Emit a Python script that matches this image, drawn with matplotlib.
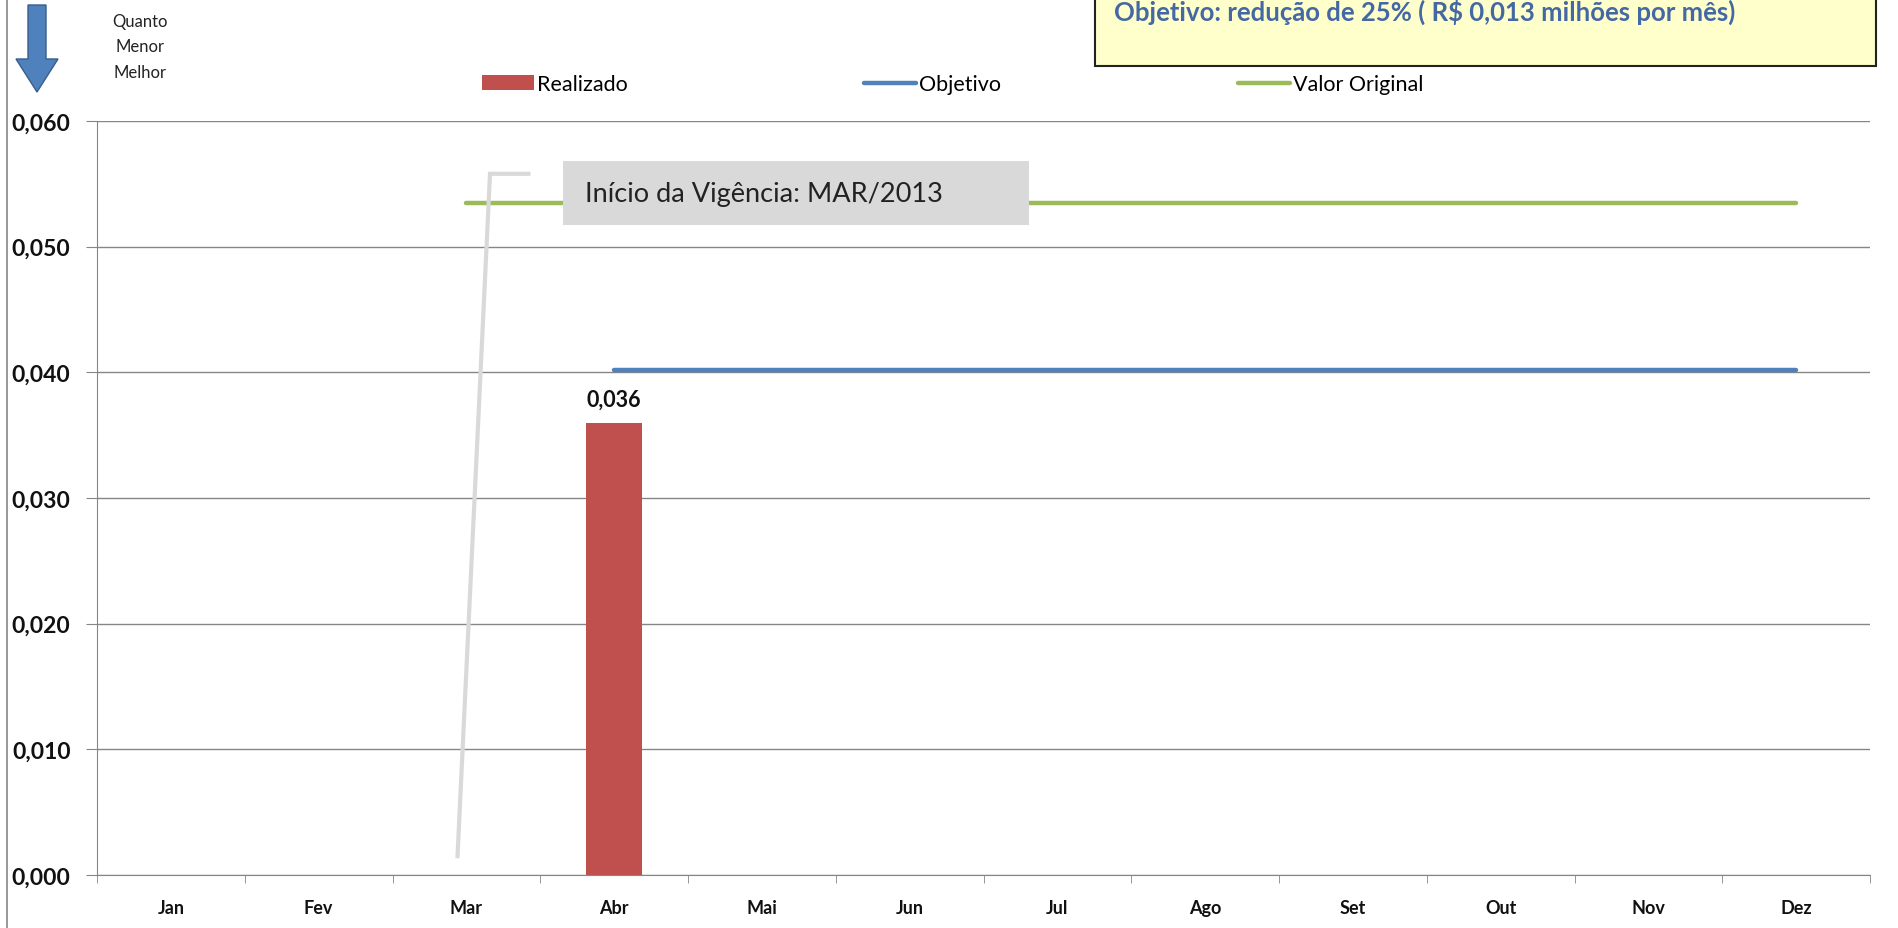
import numpy as np
import matplotlib
matplotlib.use("Agg")
import matplotlib.pyplot as plt
from matplotlib.patches import Rectangle, FancyArrow
from matplotlib.lines import Line2D
from matplotlib.ticker import FixedLocator, FuncFormatter

plt.rcParams['font.family'] = ['Lato', 'DejaVu Sans']

# Data
meses = ["Jan", "Fev", "Mar", "Abr", "Mai", "Jun", "Jul", "Ago", "Set", "Out", "Nov", "Dez"]
realizado = [np.nan, np.nan, np.nan, 0.036, np.nan, np.nan, np.nan, np.nan, np.nan, np.nan, np.nan, np.nan]
objetivo = [np.nan, np.nan, np.nan, 0.0402, 0.0402, 0.0402, 0.0402, 0.0402, 0.0402, 0.0402, 0.0402, 0.0402]
valor_original = [np.nan, np.nan, 0.0535, 0.0535, 0.0535, 0.0535, 0.0535, 0.0535, 0.0535, 0.0535, 0.0535, 0.0535]
y_ticks = [0.0, 0.01, 0.02, 0.03, 0.04, 0.05, 0.06]

W, H = 1898, 929
fig = plt.figure(figsize=(W / 100, H / 100), dpi=100)
ax = fig.add_axes([97 / W, 1 - 876 / H, (1870 - 97) / W, (876 - 122) / H])

x = np.arange(len(meses))
bars = ax.bar(x, realizado, width=0.38, color="#C0504D", label="Realizado", zorder=3)
ax.plot(x, objetivo, color="#4F81BD", lw=3.2, label="Objetivo", zorder=4, solid_capstyle="round")
ax.plot(x, valor_original, color="#9BBB59", lw=3.2, label="Valor Original", zorder=4, solid_capstyle="round")

# bar value label
for xi, v in zip(x, realizado):
    if not np.isnan(v):
        ax.annotate(f"{v:.3f}".replace(".", ","), (xi, v), xytext=(0, 9), textcoords="offset points",
                    ha="center", va="bottom", fontsize=15.5, fontweight="bold", color="#111111")

ax.set_xlim(-0.5, 11.5)
ax.set_ylim(0, 0.06)
ax.set_yticks(y_ticks)
ax.yaxis.set_major_formatter(FuncFormatter(lambda v, p: f"{v:.3f}".replace(".", ",")))
ax.set_xticks(x)
ax.set_xticklabels(meses)
ax.xaxis.set_minor_locator(FixedLocator(np.arange(-0.5, 12, 1)))
ax.tick_params(axis="x", which="major", length=0, pad=17, labelsize=13, labelcolor="#111111")
ax.tick_params(axis="x", which="minor", length=6, color="#868686", direction="out")
ax.tick_params(axis="y", length=8, color="#868686", pad=11, labelsize=16.5, labelcolor="#111111")
for lab in ax.get_xticklabels() + ax.get_yticklabels():
    lab.set_fontweight("bold")

ax.grid(axis="y", color="#868686", lw=1, zorder=0)
for s in ["top", "right"]:
    ax.spines[s].set_visible(False)
ax.spines["left"].set_color("#868686")
ax.spines["bottom"].set_color("#868686")

# legend (bar first, as in the original)
h, l = ax.get_legend_handles_labels()
order = [l.index("Realizado"), l.index("Objetivo"), l.index("Valor Original")]
ax.legend([h[i] for i in order], [l[i] for i in order], loc="center left",
          bbox_to_anchor=(385 / 1773, 1.049), ncol=3, frameon=False,
          fontsize=15.5, handlelength=2.4, handletextpad=0.15, columnspacing=11.0,
          borderaxespad=0, borderpad=0)

# callout for start of validity
ax.plot([1.94, 2.16, 2.42], [0.0015, 0.0558, 0.0558], color="#D9D9D9", lw=3, zorder=5,
        solid_joinstyle="miter")
ax.add_patch(Rectangle((2.654, 0.0517), 5.808 - 2.654, 0.0568 - 0.0517, facecolor="#D9D9D9",
                       edgecolor="none", zorder=6))
ax.text(2.80, 0.05425, "Início da Vigência: MAR/2013", fontsize=19.5, va="center", ha="left",
        color="#222222", zorder=7)

# yellow objective box at top right
fig.patches.append(Rectangle((1095 / W, 1 - 67 / H), (1876 - 1095) / W, 80 / H, transform=fig.transFigure,
                             facecolor="#FFFFCC", edgecolor="#222222", lw=1.5))
fig.text(1114 / W, 1 - 12 / H, "Objetivo: redução de 25% ( R$ 0,013 milhões por mês)", fontsize=18.5,
         fontweight="bold", color="#4468A4", va="center", ha="left")

# "less is better" arrow
fig.patches.append(FancyArrow(37 / W, 1 - 6 / H, 0, -(93 - 6) / H, width=18 / W, head_width=42 / W,
                              head_length=33 / H, length_includes_head=True, transform=fig.transFigure,
                              facecolor="#4F81BD", edgecolor="#385D8A", lw=1))
for i, t in enumerate(["Quanto", "Menor", "Melhor"]):
    fig.text(140 / W, 1 - (22 + 25.5 * i) / H, t, fontsize=12, ha="center", va="center", color="#222222")

# left border
fig.add_artist(Line2D([7 / W, 7 / W], [0, 1], transform=fig.transFigure, color="#868686", lw=1.2))

fig.savefig("out.png", dpi=100)
